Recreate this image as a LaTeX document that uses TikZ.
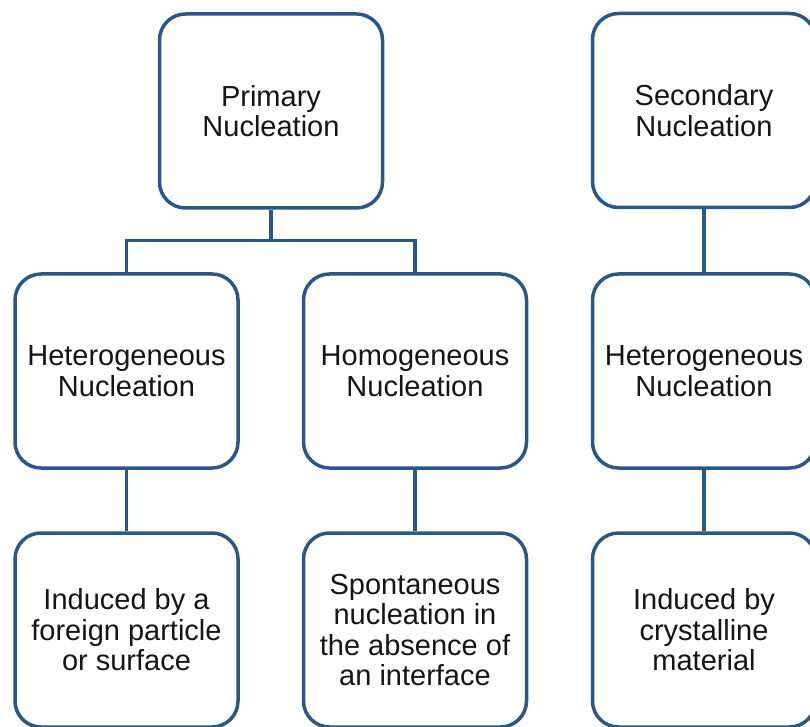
\documentclass[tikz,border=0pt]{standalone}
\usepackage{fontspec}
\setmainfont{Liberation Sans}
\definecolor{NucBlue}{HTML}{2A5886}
\definecolor{NucText}{HTML}{151515}

\begin{document}
\begin{tikzpicture}[x=1pt, y=1pt, node distance=259pt,
    box/.style={draw=NucBlue, line width=3.5pt, rounded corners=26pt, fill=white,
        minimum width=223pt, minimum height=194pt, align=center, text=NucText,
        font=\fontsize{29}{30.5}\selectfont},
    link/.style={draw=NucBlue, line width=3.5pt}]
                \useasboundingbox (0,0) rectangle (810,726);
                \clip (0,0) rectangle (810,726);

                \node[box] (primary) at (271,615) {Primary\\Nucleation};
                \node[box] (hetero) at (126.5,355) {Heterogeneous\\Nucleation};
                \node[box] (homo) at (415,355) {Homogeneous\\Nucleation};
                \node[box] (sechetero) at (704,355) {Heterogeneous\\Nucleation};
                \node[box, above of=sechetero, yshift=1.5pt] (secondary) {Secondary\\Nucleation};
                \node[box, below of=hetero] (foreign) {Induced by a\\foreign particle\\or surface};
                \node[box, below of=homo] (spont) {Spontaneous\\nucleation in\\the absence of\\an interface};
                \node[box, below of=sechetero] (crystal) {Induced by\\crystalline\\material};

                \draw[link] (primary.south) -- ++(0,-31) -| (hetero.north);
                \draw[link] (primary.south) -- ++(0,-31) -| (homo.north);
                \draw[link] (secondary) -- (sechetero);
                \draw[link] (hetero) -- (foreign);
                \draw[link] (homo) -- (spont);
                \draw[link] (sechetero) -- (crystal);
            \end{tikzpicture}
\end{document}
